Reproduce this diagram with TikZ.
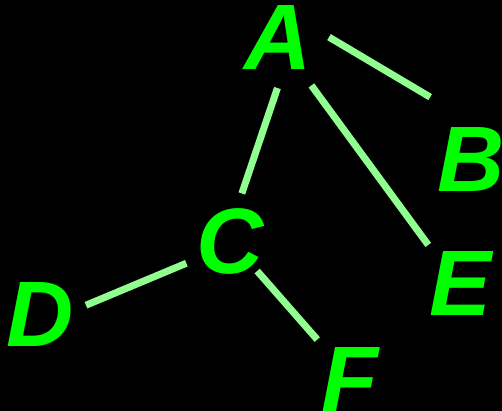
\documentclass[tikz,border=0pt]{standalone}
\usepackage{fontspec}
\setmainfont{Liberation Sans}
\begin{document}
\begin{tikzpicture}[x=1pt,y=-1pt,
  lbl/.style={circle,inner sep=0pt,outer sep=0pt,text=textgreen,font=\fontsize{93}{93}\selectfont\bfseries\itshape},
  edge/.style={draw=edgegreen,line width=7pt}]
\definecolor{textgreen}{RGB}{0,255,0}
\definecolor{edgegreen}{RGB}{144,255,144}
\useasboundingbox (0,0) rectangle (502,411);
\clip (0,0) rectangle (502,411);
\fill[black] (0,0) rectangle (502,411);
\node[lbl,minimum size=102pt] (A) at (278,38) {A};
\node[lbl,minimum size=150pt] (B) at (471,160) {B};
\node[lbl,minimum size=98pt] (C) at (230,241) {C};
\node[lbl,minimum size=94pt] (D) at (40,315) {D};
\node[lbl,minimum size=102pt] (E) at (461,284) {E};
\node[lbl,minimum size=104pt] (F) at (350,380) {F};
\draw[edge] (A.1) -- (B.123);
\draw[edge,shorten <=-1pt] (A.-91) -- (C.76);
\draw[edge,shorten <=7pt] (A.-55) -- (E.130);
\draw[edge] (C.-153) -- (D.12);
\draw[edge,shorten <=-8.5pt] (C.-48) -- (F.129.5);
\end{tikzpicture}
\end{document}
